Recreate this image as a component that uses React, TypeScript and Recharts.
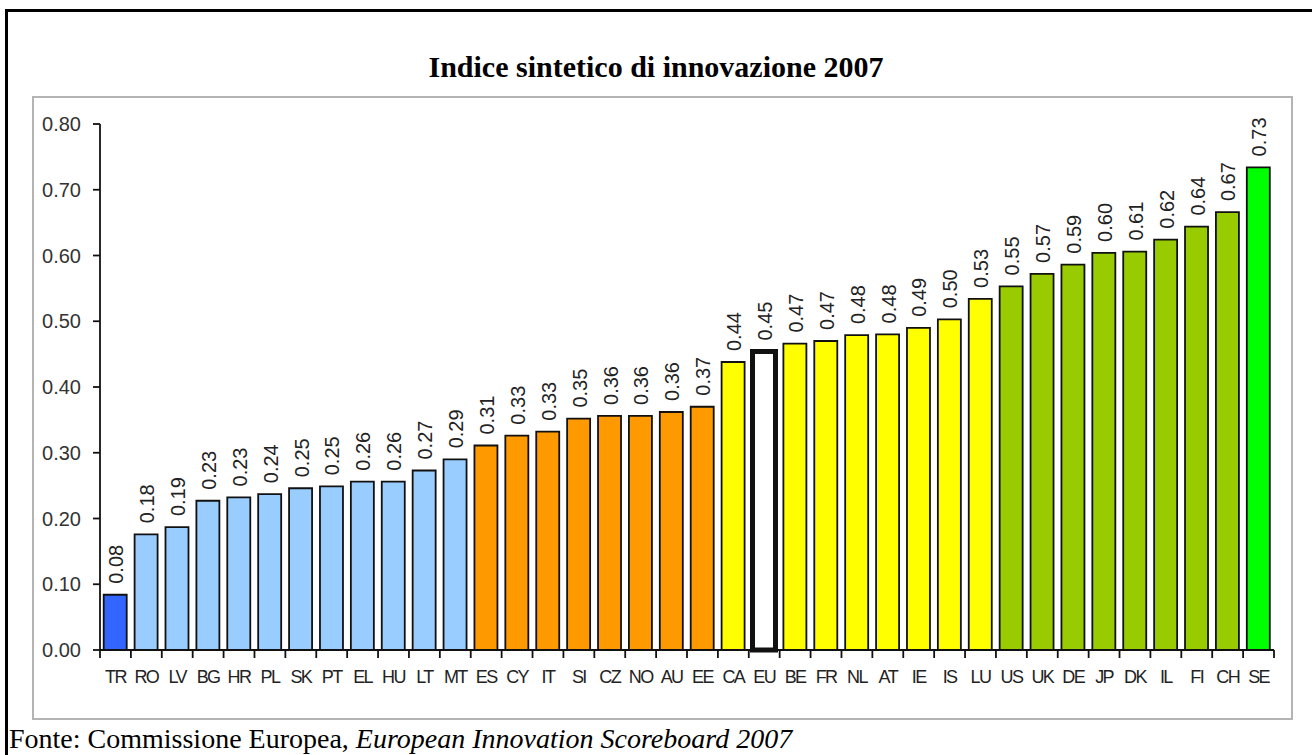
import * as React from "react";
import { BarChart, Bar, XAxis, YAxis, Cell, LabelList } from "recharts";

// Paesi in ordine crescente
const countries = [
  "TR", "RO", "LV", "BG", "HR", "PL", "SK", "PT", "EL", "HU", "LT", "MT",
  "ES", "CY", "IT", "SI", "CZ", "NO", "AU", "EE",
  "CA", "EU", "BE", "FR", "NL", "AT", "IE", "IS", "LU",
  "US", "UK", "DE", "JP", "DK", "IL", "FI", "CH", "SE",
];

const scores = [
  0.084, 0.176, 0.187, 0.227, 0.232, 0.237, 0.246, 0.249, 0.256, 0.256, 0.273, 0.29,
  0.311, 0.326, 0.332, 0.352, 0.356, 0.356, 0.362, 0.37,
  0.438, 0.454, 0.466, 0.47, 0.479, 0.48, 0.49, 0.503, 0.534,
  0.553, 0.572, 0.586, 0.604, 0.606, 0.624, 0.644, 0.666, 0.734,
];

// gruppo di appartenenza di ogni paese
const groups = [
  "tr", "catch", "catch", "catch", "catch", "catch", "catch", "catch", "catch", "catch", "catch", "catch",
  "moderate", "moderate", "moderate", "moderate", "moderate", "moderate", "moderate", "moderate",
  "follower", "eu", "follower", "follower", "follower", "follower", "follower", "follower", "follower",
  "leader", "leader", "leader", "leader", "leader", "leader", "leader", "leader", "top",
];

const yTicks = [0, 0.1, 0.2, 0.3, 0.4, 0.5, 0.6, 0.7, 0.8];

const GROUP_FILL: Record<string, string> = {
  tr: "#3366ff",
  catch: "#99ccff",
  moderate: "#ff9900",
  follower: "#ffff00",
  eu: "#ffffff",
  leader: "#99cc00",
  top: "#00ff00",
};

const SANS = "'Liberation Sans', Arial, sans-serif";
const SERIF = "'Liberation Serif', 'Times New Roman', serif";

const data = countries.map((c, i) => ({ country: c, score: scores[i], group: groups[i] }));

function XTick(props: any) {
  const { x, y, payload, index, visibleTicksCount } = props;
  const half = payload?.offset ?? 15.9;
  const isLast = index === visibleTicksCount - 1;
  return (
    <g>
      <line x1={x - half} x2={x - half} y1={y - 8} y2={y} stroke="#111" strokeWidth={1.8} />
      {isLast && <line x1={x + half} x2={x + half} y1={y - 8} y2={y} stroke="#111" strokeWidth={1.8} />}
      <text x={x} y={y + 25} textAnchor="middle" fill="#222" fontSize={18} fontFamily={SANS} letterSpacing={-1.6}>
        {payload.value}
      </text>
    </g>
  );
}

function ValueLabel(props: any) {
  const { x, y, width, value } = props;
  const cx = x + width / 2 + 1;
  const ty = y - 11;
  return (
    <text
      x={cx}
      y={ty}
      transform={`rotate(-90 ${cx} ${ty})`}
      textAnchor="start"
      dominantBaseline="central"
      fill="#222"
      fontSize={20}
      fontFamily={SANS}
    >
      {Number(value).toFixed(2)}
    </text>
  );
}

export default function App() {
  return (
    <div style={{ position: "absolute", left: 0, top: 0, width: 1312, height: 755, background: "#fff", overflow: "hidden" }}>
      {/* cornice esterna */}
      <div style={{ position: "absolute", left: 5, top: 9, width: 1330, height: 780, border: "3px solid #000" }} />
      <div
        style={{
          position: "absolute",
          left: 0,
          top: 49,
          width: 1312,
          textAlign: "center",
          fontFamily: SERIF,
          fontWeight: "bold",
          fontSize: 30,
          lineHeight: "36px",
          color: "#000",
        }}
      >
        Indice sintetico di innovazione 2007
      </div>
      {/* cornice grigia del grafico */}
      <div style={{ position: "absolute", left: 32, top: 96, width: 1257, height: 620, border: "2px solid #b4b4b4" }} />
      <div style={{ position: "absolute", left: 33, top: 97 }}>
        <BarChart
          width={1259}
          height={622}
          data={data}
          margin={{ top: 27, right: 18, left: 0, bottom: 0 }}
          barCategoryGap="12%"
        >
          <XAxis
            dataKey="country"
            interval={0}
            height={69}
            tickSize={8}
            tickMargin={0}
            tickLine={false}
            axisLine={{ stroke: "#111", strokeWidth: 1.8 }}
            tick={<XTick />}
          />
          <YAxis
            domain={[0, 0.8]}
            ticks={yTicks}
            width={67}
            tickSize={7}
            tickMargin={12}
            interval={0}
            tickFormatter={(v: number) => v.toFixed(2)}
            tick={{ fill: "#333", fontSize: 20, fontFamily: SANS }}
            tickLine={{ stroke: "#111", strokeWidth: 1.8 }}
            axisLine={{ stroke: "#111", strokeWidth: 1.8 }}
          />
          <Bar dataKey="score" isAnimationActive={false}>
            {data.map((d) => (
              <Cell
                key={d.country}
                fill={GROUP_FILL[d.group]}
                stroke="#111"
                strokeWidth={d.group === "eu" ? 5 : 1.8}
              />
            ))}
            <LabelList dataKey="score" content={<ValueLabel />} />
          </Bar>
        </BarChart>
      </div>
      <div
        style={{
          position: "absolute",
          left: 9,
          top: 722,
          fontFamily: SERIF,
          fontSize: 28,
          lineHeight: "34px",
          color: "#000",
          whiteSpace: "nowrap",
        }}
      >
        Fonte: Commissione Europea, <i>European Innovation Scoreboard 2007</i>
      </div>
    </div>
  );
}
